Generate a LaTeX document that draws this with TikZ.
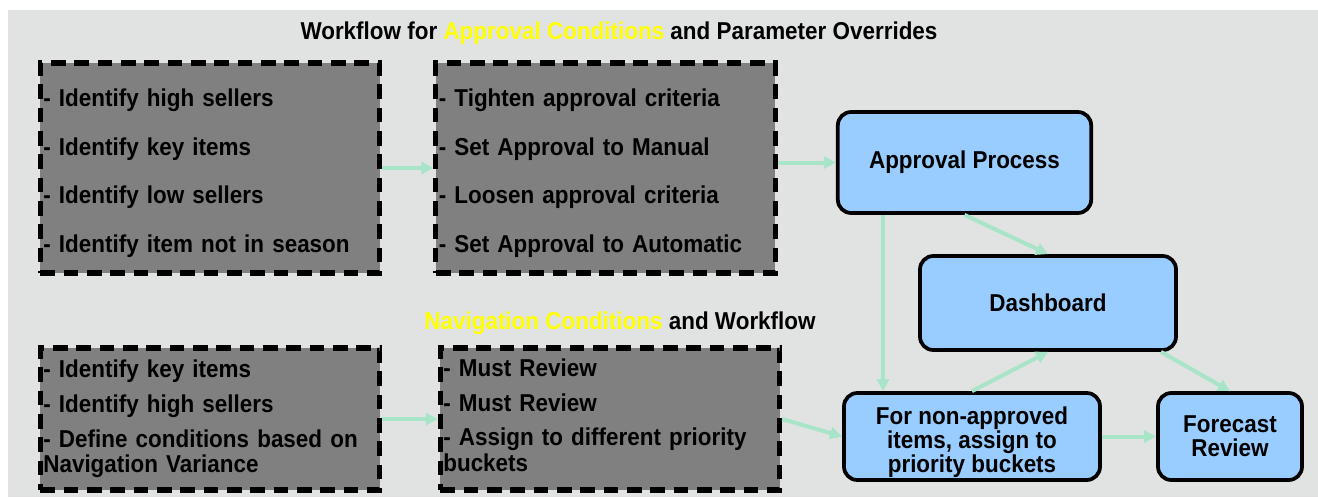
\documentclass[tikz,border=0pt]{standalone}
\usepackage{fontspec}
\setmainfont{Liberation Sans}[FakeStretch=0.92]
\usetikzlibrary{arrows.meta}
\definecolor{bggray}{RGB}{225,227,226}
\definecolor{boxgray}{RGB}{128,128,128}
\definecolor{procblue}{RGB}{153,204,255}
\definecolor{mint}{RGB}{168,228,200}
\definecolor{hiyellow}{RGB}{255,255,0}
\begin{document}
\begin{tikzpicture}[x=0.75pt,y=-0.75pt,
  condbox/.style={draw=black,line width=3.8pt,dash pattern=on 11pt off 6.5pt,fill=boxgray,
    align=left,text width=250pt,inner xsep=2.25pt,inner ysep=0pt},
  procbox/.style={draw=black,line width=2.8pt,rounded corners=10pt,fill=procblue,
    align=center,inner sep=0pt,font=\fontsize{18.3}{18}\selectfont\bfseries},
  title/.style={font=\fontsize{18.3}{20}\selectfont\bfseries,inner sep=0pt},
  flow/.style={draw=mint,line width=3pt,-{Triangle[length=9pt,width=9pt]}}]
\useasboundingbox (0,0) rectangle (1318,497);
\fill[white] (0,0) rectangle (1318,497);
\fill[bggray] (8,10) rectangle (1318,497);
% headings
\node[title] (headA) at (619,33) {Workflow for \textcolor{hiyellow}{Approval Conditions} and Parameter Overrides};
\node[title] (headB) at (620,323) {\textcolor{hiyellow}{Navigation Conditions} and Workflow};
% dashed condition boxes
\node[condbox,minimum height=157.5pt,font=\fontsize{18.3}{36.5}\selectfont\bfseries] (sellA) at (210,168)
  {\rule{0pt}{21pt}- Identify high sellers\\- Identify key items\\- Identify low sellers\\- Identify item not in season};
\node[condbox,minimum height=157.5pt,font=\fontsize{18.3}{36.5}\selectfont\bfseries] (critA) at (605.5,168)
  {\rule{0pt}{21pt}- Tighten approval criteria\\- Set Approval to Manual\\- Loosen approval criteria\\- Set Approval to Automatic};
\node[condbox,minimum height=106.5pt,font=\fontsize{18.3}{19}\selectfont\bfseries] (navB) at (210,419)
  {- Identify key items\\[7pt]- Identify high sellers\\[7pt]- Define conditions based on\\Navigation Variance};
\node[condbox,minimum height=106.5pt,font=\fontsize{18.3}{19}\selectfont\bfseries] (revB) at (610,419)
  {- Must Review\\[7pt]- Must Review\\[7pt]- Assign to different priority\\buckets\rule[-6pt]{0pt}{0pt}};
% process boxes
\node[procbox,minimum width=190pt,minimum height=75.75pt] (appr) at (964.5,162.5) {Approval Process};
\node[procbox,minimum width=192pt,minimum height=70.5pt] (dash) at (1048,303) {Dashboard};
\node[procbox,minimum width=192pt,minimum height=65.25pt] (prio) at (972,436.5) {\rule{0pt}{22.5pt}For non-approved\\items, assign to\\priority buckets};
\node[procbox,minimum width=108pt,minimum height=65.25pt] (fcst) at (1230,436.5) {Forecast\\Review};
% connectors
\draw[flow] (sellA) -- (critA);
\draw[flow] (critA.east |- appr.west) -- (appr.west);
\draw[flow] ([xshift=-81.5*0.75pt]appr.south) coordinate (drop) -- (drop |- prio.north);
\draw[flow] (appr.south) -- (dash.north);
\draw[flow] (prio.north) -- (dash.south);
\draw[flow] ([xshift=113*0.75pt]dash.south) -- (fcst.north);
\draw[flow] (prio.east) -- (fcst.west);
\draw[flow] (navB) -- (revB);
\draw[flow] (revB.east) -- (prio.west);
\end{tikzpicture}
\end{document}
